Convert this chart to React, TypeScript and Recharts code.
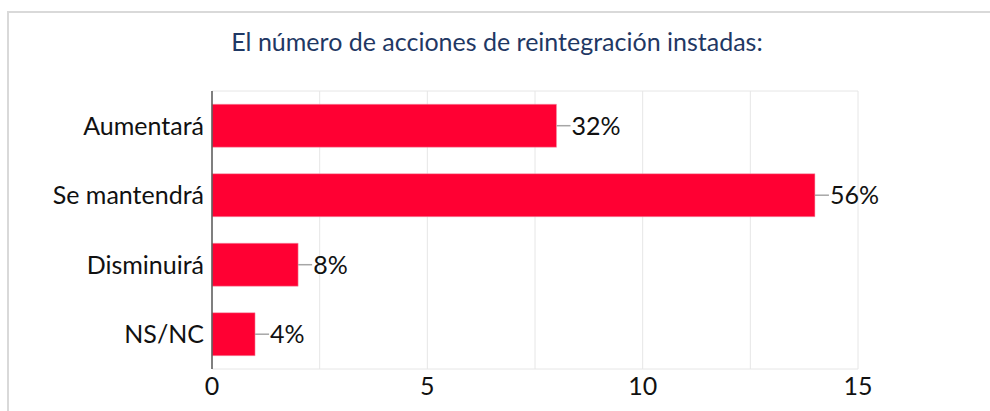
import { Bar, BarChart, CartesianGrid, LabelList, XAxis, YAxis } from "recharts";

const categories = ["Aumentará", "Se mantendrá", "Disminuirá", "NS/NC"];
const counts = [8, 14, 2, 1];
const shares = ["32%", "56%", "8%", "4%"];
const axisTicks = [0, 5, 10, 15];
const gridValues = [0, 2.5, 5, 7.5, 10, 12.5, 15];

const data = categories.map((name, i) => ({ name, count: counts[i], share: shares[i] }));
const xMax = axisTicks[axisTicks.length - 1];

const FONT = "Lato, 'Open Sans', sans-serif";

function ShareLabel(props: any) {
  const { x, y, width, height, value } = props;
  const endX = Number(x) + Number(width);
  const midY = Number(y) + Number(height) / 2;
  return (
    <g>
      <line x1={endX} y1={midY} x2={endX + 14} y2={midY} stroke="#a6a6a6" strokeWidth={1.5} />
      <text x={endX + 15} y={midY} dy="0.36em" fontSize={25} fill="#111" fontFamily={FONT}>
        {value}
      </text>
    </g>
  );
}

export default function App() {
  return (
    <div style={{ position: "absolute", left: 0, top: 0, width: 990, height: 411, background: "#fff", overflow: "hidden" }}>
      <div
        style={{
          position: "absolute",
          left: 7,
          top: 11,
          width: 990,
          height: 420,
          borderTop: "2px solid #d9d9d9",
          borderLeft: "2px solid #d9d9d9",
        }}
      />
      <div
        style={{
          position: "absolute",
          left: 0,
          top: 26,
          width: 994,
          textAlign: "center",
          fontFamily: FONT,
          fontSize: 25,
          color: "#1f3864",
        }}
      >
        El número de acciones de reintegración instadas:
      </div>
      <div style={{ position: "absolute", left: 0, top: 0 }}>
        <BarChart
          width={990}
          height={411}
          data={data}
          layout="vertical"
          margin={{ top: 91, right: 132, bottom: 0, left: 0 }}
          barCategoryGap="19%"
        >
          <CartesianGrid
            stroke="#e6e6e6"
            horizontalCoordinatesGenerator={({ offset }: any) => [offset.top, offset.top + offset.height]}
            verticalCoordinatesGenerator={({ offset }: any) =>
              gridValues.map((v) => offset.left + (v / xMax) * offset.width)
            }
          />
          <XAxis
            type="number"
            domain={[0, xMax]}
            ticks={axisTicks}
            axisLine={false}
            tickLine={false}
            height={42}
            tickMargin={2}
            tick={{ fontSize: 25, fill: "#111", fontFamily: FONT }}
          />
          <YAxis
            type="category"
            dataKey="name"
            width={212}
            axisLine={{ stroke: "#595959", strokeWidth: 1.5 }}
            tickLine={false}
            tick={{ fontSize: 25, fill: "#111", fontFamily: FONT }}
          />
          <Bar dataKey="count" fill="#ff0033" stroke="#f0a0b0" strokeWidth={0.5} isAnimationActive={false}>
            <LabelList dataKey="share" content={<ShareLabel />} />
          </Bar>
        </BarChart>
      </div>
    </div>
  );
}
